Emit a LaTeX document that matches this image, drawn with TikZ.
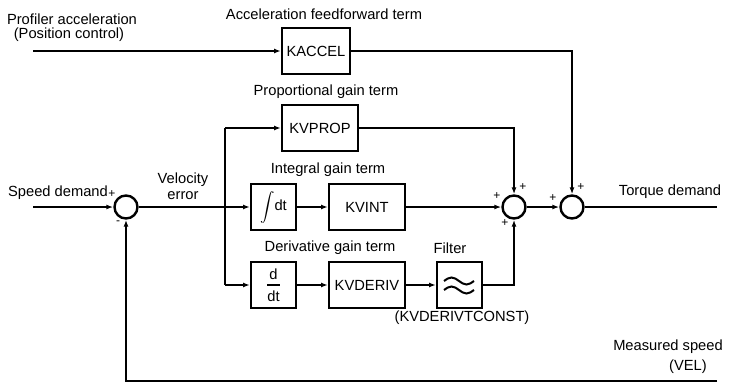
\documentclass[tikz,border=0pt]{standalone}
\usepackage{amsmath}
\usepackage{fontspec}
\setmainfont{Liberation Sans}
\usepackage{tikz}
\usetikzlibrary{arrows.meta,positioning}
\tikzset{every node/.append style={font=\fontsize{14.7}{16}\selectfont}}
\tikzset{
  gainbox/.style={draw,line width=2pt,minimum height=46pt,inner sep=0pt},
  sumjunct/.style={draw,circle,line width=2.4pt,minimum size=23pt,inner sep=0pt},
  signlbl/.style={font=\fontsize{12}{12}\selectfont,inner sep=0pt},
  wire/.style={line width=2pt}
}

\begin{document}
\begin{tikzpicture}[x=1pt,y=-1pt,>={Latex[length=7pt,width=5pt]}]
  \useasboundingbox (0,0) rectangle (732,383);
  \coordinate (accin) at (33,51);
  \coordinate (spdin) at (33,207);
  \coordinate (brtop) at (225,128);
  \coordinate (brmid) at (225,207);
  \coordinate (brbot) at (225,285);
  \coordinate (torqout) at (717,207);
  \coordinate (fbout) at (717,381);

  \node[gainbox,minimum width=68pt] (kaccel) at (316,51) {KACCEL};
  \node[gainbox,minimum width=76pt] (kvprop) at (320,128) {KVPROP};
  \node[gainbox,minimum width=45pt] (integ) at (273.5,207) {$\displaystyle\int$dt};
  \node[gainbox,minimum width=76pt] (kvint) at (367,207) {KVINT};
  \node[gainbox,minimum width=45pt] (ddt) at (273.5,285)
    {$\genfrac{}{}{1.6pt}{0}{\mbox{d}}{\mbox{dt}}$};
  \node[gainbox,minimum width=76pt] (kvderiv) at (367,285) {KVDERIV};
  \node[gainbox,minimum width=45pt] (filt) at (459.5,285) {};
  \draw[wire] (444,281) sin (451.5,277.5) cos (459,281) sin (466.5,284.5) cos (474,281);
  \draw[wire] (444,290) sin (451.5,286.5) cos (459,290) sin (466.5,293.5) cos (474,290);

  \node[sumjunct] (sum1) at (126,207) {};
  \node[sumjunct] (sum2) at (514,207) {};
  \node[sumjunct] (sum3) at (572,207) {};

  \node (profin) at (72,19) {Profiler acceleration};
  \node (poscon) at (69,35) {(Position control)};
  \node (accterm) at (324,14) {Acceleration feedforward term};
  \node (propterm) at (326,92) {Proportional gain term};
  \node (intterm) at (328,170) {Integral gain term};
  \node (derterm) at (330,248) {Derivative gain term};
  \node (filtlbl) at (450,248) {Filter};
  \node (tconst) at (462,318) {(KVDERIVTCONST)};
  \node (spdlbl) at (58,193) {Speed demand};
  \node[align=center] (velerr) at (183,186) {Velocity\\error};
  \node (torq) at (670,192) {Torque demand};
  \node (meas) at (668,347) {Measured speed};
  \node (vel) at (688,367) {(VEL)};

  \node[signlbl] (s1a) at (112,194) {+};
  \node[signlbl] (s1b) at (118,223) {-};
  \node[signlbl] (s2a) at (497,196) {+};
  \node[signlbl] (s2b) at (523,187) {+};
  \node[signlbl] (s2c) at (505,223) {+};
  \node[signlbl] (s3a) at (553,198) {+};
  \node[signlbl] (s3b) at (581,187) {+};

  \draw[wire,->] (accin) -- (kaccel);
  \draw[wire,->] (kaccel) -| (sum3);
  \draw[wire,->] (spdin) -- (sum1);
  \draw[wire] (sum1) -- (brmid);
  \draw[wire,->] (brmid) -- (integ);
  \draw[wire] (brtop) -- (brbot);
  \draw[wire,->] (brtop) -- (kvprop);
  \draw[wire,->] (brbot) -- (ddt);
  \draw[wire,->] (integ) -- (kvint);
  \draw[wire,->] (kvint) -- (sum2);
  \draw[wire,->] (kvprop) -| (sum2);
  \draw[wire,->] (ddt) -- (kvderiv);
  \draw[wire,->] (kvderiv) -- (filt);
  \draw[wire,->] (filt) -| (sum2);
  \draw[wire,->] (sum2) -- (sum3);
  \draw[wire] (sum3) -- (torqout);
  \draw[wire,->] (fbout) -| (sum1);
\end{tikzpicture}
\end{document}
